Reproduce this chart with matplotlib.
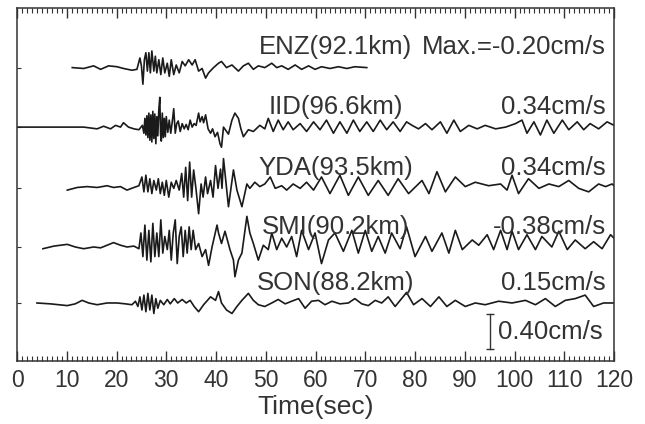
import numpy as np
import matplotlib
matplotlib.use("Agg")
from matplotlib import pyplot as plt
from matplotlib.ticker import MultipleLocator

plt.rcParams['font.family'] = ['Liberation Sans', 'DejaVu Sans']

# velocity traces: (time s, velocity cm/s)
enz = [(11.1, 0.0), (13.4, -0.01), (15.4, 0.02), (16.8, -0.02), (18.4, 0.02), (20.1, 0.01),
       (21.4, -0.01), (23.1, -0.03), (24.1, -0.02), (24.7, 0.11), (25.0, 0.02), (25.3, -0.19),
       (25.6, 0.09), (25.9, 0.17), (26.2, -0.04), (26.5, 0.17), (26.8, -0.06), (27.1, 0.19),
       (27.5, -0.04), (27.8, 0.13), (28.1, -0.06), (28.5, 0.09), (28.9, -0.08), (29.3, 0.11),
       (29.7, -0.06), (30.2, 0.05), (30.6, -0.10), (31.0, 0.09), (31.5, -0.08), (32.0, 0.03),
       (32.6, -0.06), (33.2, 0.07), (33.8, 0.02), (34.5, 0.09), (35.2, 0.03), (35.8, 0.09),
       (36.5, -0.04), (37.2, -0.01), (37.9, -0.12), (38.5, -0.06), (39.5, 0.0), (40.5, 0.05),
       (41.1, 0.07), (42.1, 0.0), (43.2, 0.03), (44.5, -0.04), (45.5, 0.02), (46.5, 0.05),
       (47.5, -0.02), (48.5, 0.02), (49.8, 0.0), (51.2, 0.05), (52.2, 0.0), (53.2, 0.02),
       (54.5, -0.02), (55.9, 0.03), (57.2, -0.02), (58.6, 0.02), (59.9, -0.02), (61.2, 0.01),
       (62.9, -0.01), (64.6, 0.01), (66.3, -0.01), (67.9, 0.01), (70.3, 0.0)]

iid = [(0.0, 0.0), (10.0, 0.0), (13.4, 0.0), (16.1, -0.02), (17.4, 0.01), (18.8, -0.02),
       (19.8, 0.02), (20.8, 0.0), (21.4, 0.05), (22.4, 0.0), (23.5, -0.02), (24.5, -0.03),
       (25.2, 0.02), (25.5, -0.07), (25.7, 0.10), (25.9, -0.09), (26.1, 0.13), (26.3, -0.12),
       (26.5, 0.16), (26.7, -0.15), (26.9, 0.14), (27.1, -0.17), (27.3, 0.18), (27.5, -0.13),
       (27.7, 0.15), (27.9, -0.19), (28.1, 0.12), (28.3, -0.10), (28.5, 0.20), (28.7, 0.34),
       (28.85, -0.08), (29.0, -0.16), (29.2, 0.16), (29.4, -0.12), (29.6, 0.10), (29.8, -0.11),
       (30.0, 0.12), (30.3, -0.06), (30.6, 0.08), (30.9, -0.07), (31.2, 0.06), (31.5, 0.21),
       (31.8, -0.07), (32.1, 0.04), (32.4, 0.07), (32.8, -0.05), (33.2, 0.04), (33.6, -0.02),
       (34.0, 0.03), (34.4, -0.03), (34.8, 0.08), (35.2, 0.0), (35.6, 0.04), (36.0, 0.02),
       (36.5, 0.16), (36.8, 0.06), (37.2, 0.12), (37.5, 0.05), (37.9, 0.14), (38.4, -0.02),
       (38.9, -0.07), (39.3, -0.02), (39.8, -0.11), (40.3, -0.06), (40.8, -0.19), (41.1, -0.23),
       (41.5, 0.0), (42.0, -0.04), (42.5, -0.08), (43.2, 0.08), (43.8, 0.16), (44.5, 0.10),
       (45.0, -0.02), (45.5, -0.11), (46.5, -0.03), (47.5, -0.05), (48.8, 0.02), (49.8, -0.02),
       (50.5, 0.10), (51.5, -0.05), (52.5, 0.08), (53.5, -0.03), (54.5, 0.06), (55.5, -0.03),
       (56.9, 0.04), (58.2, -0.05), (59.6, 0.06), (60.9, -0.03), (62.2, 0.08), (63.6, -0.07),
       (64.9, 0.06), (66.3, -0.07), (67.6, 0.08), (68.9, -0.05), (70.3, 0.06), (71.6, -0.05),
       (73.0, 0.08), (74.3, -0.03), (75.6, 0.06), (77.0, -0.05), (78.3, 0.06), (79.4, 0.02),
       (80.7, -0.02), (82.1, 0.04), (83.4, -0.03), (85.1, 0.06), (86.4, -0.07), (87.8, 0.08),
       (89.1, -0.05), (90.8, 0.02), (92.5, -0.02), (94.1, 0.02), (96.2, -0.02), (98.2, 0.0),
       (100.2, 0.04), (101.5, 0.08), (102.5, -0.07), (103.9, 0.06), (105.2, -0.09), (106.5, 0.08),
       (107.9, -0.07), (109.6, 0.08), (110.9, -0.03), (112.6, 0.06), (113.9, -0.03), (115.2, 0.04),
       (116.9, -0.02), (118.6, 0.06), (120.0, 0.02)]

yda = [(10.1, -0.02), (12.1, 0.01), (14.1, 0.02), (16.1, 0.01), (18.1, 0.03), (19.4, 0.01),
       (20.8, 0.02), (22.1, -0.02), (23.5, 0.01), (24.5, 0.03), (25.1, 0.13), (25.5, -0.04),
       (25.9, 0.15), (26.3, -0.04), (26.7, 0.11), (27.1, -0.06), (27.5, 0.09), (28.0, -0.02),
       (28.4, 0.11), (28.8, -0.06), (29.2, 0.07), (29.6, -0.08), (30.0, 0.09), (30.5, -0.10),
       (31.0, 0.07), (31.5, 0.0), (32.0, 0.09), (32.6, -0.02), (33.1, 0.17), (33.5, -0.10),
       (33.9, 0.24), (34.3, -0.14), (34.7, 0.30), (35.1, -0.10), (35.5, 0.21), (36.0, -0.02),
       (36.5, -0.29), (37.0, 0.05), (37.4, -0.10), (37.9, 0.13), (38.3, -0.06), (38.9, 0.09),
       (39.4, -0.10), (39.9, 0.26), (40.4, 0.0), (40.9, 0.22), (41.2, 0.0), (41.5, 0.34),
       (42.5, -0.21), (43.5, 0.21), (44.2, -0.02), (45.2, -0.21), (46.2, 0.05), (46.8, 0.0),
       (47.8, 0.07), (48.8, 0.02), (49.8, 0.05), (50.9, 0.13), (51.9, 0.0), (53.2, 0.03),
       (54.2, -0.02), (55.5, 0.05), (56.9, 0.0), (58.2, 0.07), (59.6, -0.02), (61.2, 0.13),
       (62.9, -0.06), (64.9, 0.15), (66.6, -0.08), (68.6, 0.13), (70.6, -0.08), (72.6, 0.09),
       (74.6, -0.08), (76.6, 0.11), (78.7, -0.06), (81.4, 0.09), (82.8, -0.06), (84.4, 0.19),
       (86.1, -0.04), (88.1, 0.13), (90.1, 0.02), (92.1, 0.07), (94.8, 0.03), (97.2, 0.05),
       (98.5, -0.02), (99.5, 0.15), (100.8, -0.06), (102.8, 0.11), (104.9, 0.0), (106.9, 0.05),
       (108.9, 0.02), (110.9, 0.09), (112.9, 0.0), (114.9, -0.04), (116.9, 0.05), (118.3, 0.02),
       (119.6, 0.05), (120.0, 0.03)]

smi = [(5.2, -0.02), (7.4, 0.01), (10.1, 0.03), (11.7, 0.0), (13.4, -0.02), (15.4, 0.0),
       (16.8, -0.01), (18.1, 0.02), (19.4, 0.05), (20.8, 0.02), (22.1, 0.0), (23.5, 0.01),
       (24.5, -0.02), (24.9, 0.16), (25.3, -0.11), (25.7, 0.25), (26.1, -0.15), (26.5, 0.19),
       (26.9, -0.17), (27.3, 0.27), (27.7, -0.11), (28.1, 0.16), (28.5, -0.11), (28.9, 0.31),
       (29.3, -0.07), (29.7, 0.12), (30.2, -0.03), (30.6, 0.19), (31.0, -0.15), (31.4, 0.16),
       (31.8, 0.31), (32.2, -0.19), (32.6, 0.12), (33.0, 0.23), (33.4, -0.11), (33.8, 0.19),
       (34.2, -0.07), (34.6, 0.23), (35.0, -0.03), (35.4, 0.19), (35.9, -0.03), (36.5, 0.04),
       (37.2, -0.11), (37.9, -0.03), (38.5, -0.21), (39.2, 0.0), (40.2, 0.25), (40.5, 0.16),
       (41.1, 0.04), (41.8, 0.18), (42.8, -0.03), (43.5, -0.15), (43.8, -0.34), (44.5, -0.15),
       (45.2, -0.07), (46.2, 0.35), (46.8, 0.16), (47.5, 0.04), (48.5, -0.15), (49.5, 0.02),
       (50.5, -0.03), (51.2, 0.16), (52.2, -0.03), (53.2, 0.10), (54.2, 0.0), (55.2, 0.12),
       (56.2, -0.11), (57.2, 0.19), (58.6, -0.03), (59.9, 0.16), (61.2, -0.19), (62.6, 0.08),
       (63.9, 0.16), (65.6, -0.05), (67.3, 0.19), (68.6, -0.07), (70.0, 0.19), (71.3, -0.05),
       (72.6, 0.12), (74.0, -0.07), (75.3, 0.16), (77.0, -0.02), (78.3, 0.23), (80.0, -0.11),
       (82.1, 0.12), (83.4, -0.05), (85.4, 0.16), (86.8, -0.07), (88.1, 0.19), (89.5, -0.03),
       (91.5, 0.08), (92.8, 0.02), (94.5, 0.14), (95.8, -0.03), (97.2, 0.19), (98.5, -0.03),
       (99.5, 0.18), (100.8, -0.03), (102.5, 0.14), (104.2, -0.03), (105.5, 0.12), (107.5, 0.0),
       (108.9, 0.18), (110.6, -0.03), (112.2, 0.08), (114.2, -0.02), (115.9, 0.06), (117.6, -0.02),
       (119.3, 0.14), (120.0, 0.10)]

son = [(4.0, 0.0), (6.7, -0.01), (10.1, -0.03), (11.7, -0.01), (13.1, 0.03), (14.4, 0.0),
       (16.1, -0.02), (18.1, 0.0), (20.1, 0.0), (21.8, -0.01), (23.1, -0.02), (23.8, 0.02),
       (24.3, -0.04), (24.7, 0.07), (25.1, -0.08), (25.5, 0.09), (25.9, -0.10), (26.3, 0.11),
       (26.7, -0.08), (27.1, 0.09), (27.5, -0.12), (27.9, 0.05), (28.3, -0.06), (28.8, 0.03),
       (29.5, -0.02), (30.2, 0.04), (30.8, -0.01), (31.6, 0.05), (32.3, 0.0), (33.2, 0.04),
       (34.0, 0.0), (34.8, 0.03), (35.6, -0.04), (36.5, -0.10), (37.5, -0.02), (38.9, 0.07),
       (39.9, 0.03), (40.5, 0.13), (41.1, 0.0), (42.1, -0.08), (43.2, -0.12), (44.2, -0.04),
       (45.2, 0.03), (46.5, 0.11), (47.5, 0.03), (48.5, -0.02), (49.8, -0.04), (51.2, 0.0),
       (52.5, 0.04), (53.9, -0.01), (55.2, 0.02), (56.6, 0.05), (57.9, -0.06), (59.2, 0.02),
       (60.6, 0.03), (61.9, -0.02), (63.3, 0.02), (64.9, -0.01), (66.6, 0.0), (67.9, 0.05),
       (69.3, -0.01), (70.6, -0.03), (72.0, 0.03), (73.3, 0.0), (74.6, 0.07), (76.0, -0.04),
       (77.3, 0.05), (78.3, 0.12), (79.7, -0.02), (81.4, 0.05), (83.1, -0.04), (84.8, 0.07),
       (86.4, -0.04), (88.1, 0.03), (90.1, -0.04), (92.1, 0.0), (94.1, -0.02), (96.8, 0.02),
       (99.5, 0.0), (102.2, 0.03), (104.2, -0.02), (106.2, 0.05), (108.2, -0.04), (110.2, 0.03),
       (112.2, 0.05), (114.2, 0.09), (115.9, -0.04), (117.9, 0.0), (120.0, 0.0)]

traces = [enz, iid, yda, smi, son]
stations = ['ENZ(92.1km)', 'IID(96.6km)', 'YDA(93.5km)', 'SMI(90.2km)', 'SON(88.2km)']
max_labels = ['Max.=-0.20cm/s', '0.34cm/s', '0.34cm/s', '-0.38cm/s', '0.15cm/s']
scale_amp = 0.40  # cm/s

# vertical placement of each trace (cm/s units)
offsets = [2.69, 2.01, 1.31, 0.64, 0.0]

fig = plt.figure(figsize=(6.45, 4.24), dpi=100)
ax = fig.add_axes([0.0264, 0.1486, 0.9256, 0.8325])

for tr, off, name, mx in zip(traces, offsets, stations, max_labels):
    t, a = np.array(tr).T
    ax.plot(t, a + off, color='#1a1a1a', lw=1.2)
    ax.text(64, off + 0.23, name, ha='center', va='center', fontsize=18.5, color='#333333')
    ax.text(118.3, off + 0.23, mx, ha='right', va='center', fontsize=18.5, color='#333333')

# amplitude scale bar
ax.plot([95, 95], [-0.526, -0.526 + scale_amp], color='#333333', lw=1.0,
        marker='_', markersize=6, markeredgewidth=1.0)
ax.text(96.6, -0.326, '%.2fcm/s' % scale_amp, ha='left', va='center', fontsize=18.5, color='#333333')

ax.set_xlim(0, 120)
ax.set_ylim(-0.663, 3.371)
ax.xaxis.set_major_locator(MultipleLocator(10))
ax.xaxis.set_minor_locator(MultipleLocator(1))
ax.tick_params(axis='x', which='both', direction='in', top=True, labelsize=16.5,
               colors='#333333', pad=6)
ax.tick_params(axis='x', which='major', length=7, width=1.0)
ax.tick_params(axis='x', which='minor', length=3.5, width=0.8)
ax.set_yticks(offsets)
ax.set_yticklabels([])
ax.tick_params(axis='y', direction='in', length=3, width=0.8, colors='#333333')
for sp in ax.spines.values():
    sp.set_linewidth(1.1)
    sp.set_color('#333333')
ax.set_xlabel('Time(sec)', fontsize=19, color='#333333', labelpad=2)

fig.savefig('out.png', dpi=100)
